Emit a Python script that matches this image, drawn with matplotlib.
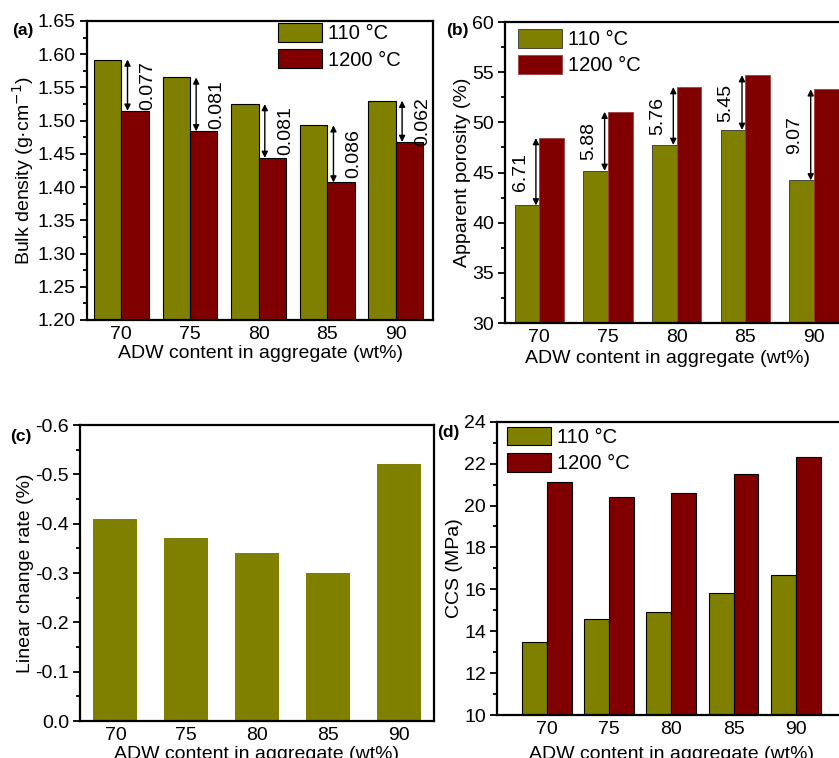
import numpy as np
import matplotlib
matplotlib.use("Agg")
import matplotlib.pyplot as plt
from matplotlib.ticker import AutoMinorLocator, MultipleLocator

plt.rcParams["font.family"] = ["Liberation Sans", "DejaVu Sans"]
plt.rcParams["axes.unicode_minus"] = False
plt.rcParams["font.size"] = 14

content = ["70", "75", "80", "85", "90"]
series = ["110 °C", "1200 °C"]

# bulk density: dried values and the drop after firing
density_110 = [1.592, 1.565, 1.525, 1.493, 1.530]
density_drop = [0.077, 0.081, 0.081, 0.086, 0.062]

# apparent porosity: dried values and the rise after firing
porosity_110 = [41.72, 45.17, 47.75, 49.25, 44.22]
porosity_rise = [6.71, 5.88, 5.76, 5.45, 9.07]

linear_change = [-0.41, -0.37, -0.34, -0.30, -0.52]

ccs_110 = [13.5, 14.6, 14.9, 15.8, 16.7]
ccs_1200 = [21.1, 20.4, 20.6, 21.5, 22.3]

density_1200 = [g - d for g, d in zip(density_110, density_drop)]
porosity_1200 = [g + d for g, d in zip(porosity_110, porosity_rise)]

olive = "#808000"
maroon = "#800000"
W, H = 839, 758

fig = plt.figure(figsize=(W / 100, H / 100), dpi=100)


def box(left, top, right, bottom):
    return [left / W, 1 - bottom / H, (right - left) / W, (bottom - top) / H]


def style(ax, ylabel, ylim, major, fmt):
    ax.set_ylim(*ylim)
    ax.yaxis.set_major_locator(MultipleLocator(major))
    ax.yaxis.set_minor_locator(AutoMinorLocator(2))
    ax.yaxis.set_major_formatter(fmt)
    ax.set_ylabel(ylabel, fontsize=14, labelpad=1)
    ax.set_xlabel("ADW content in aggregate (wt%)", fontsize=14, labelpad=2)
    ax.set_xticks(np.arange(1, 6))
    ax.set_xticklabels(content)
    ax.tick_params(axis="x", length=0, pad=4, labelsize=14)
    ax.tick_params(axis="y", which="major", length=5, width=1.3, pad=3, labelsize=14)
    ax.tick_params(axis="y", which="minor", length=3, width=1.3)
    for s in ax.spines.values():
        s.set_linewidth(1.6)


def legend(ax, anchor):
    ax.legend(loc="upper left", bbox_to_anchor=anchor, frameon=False, fontsize=14.5,
              handlelength=2.2, handleheight=1.05, labelspacing=0.3,
              handletextpad=0.3, borderpad=0, borderaxespad=0)


def span_arrow(ax, xpos, a, b):
    ax.annotate("", xy=(xpos, a), xytext=(xpos, b),
                arrowprops=dict(arrowstyle="<|-|>", color="black", lw=1,
                                mutation_scale=9, shrinkA=0, shrinkB=0))


x = np.arange(1, 6)

# (a) bulk density
ax = fig.add_axes(box(87, 21, 433, 320))
bw = 0.4
ax.bar(x - bw / 2, density_110, bw, color=olive, edgecolor="black", lw=0.8, label=series[0])
ax.bar(x + bw / 2, density_1200, bw, color=maroon, edgecolor="black", lw=0.8, label=series[1])
ax.set_xlim(0.5, 5.54)
style(ax, "Bulk density (g·cm$^{-1}$)", (1.20, 1.65), 0.05, "{x:.2f}")
for xi, top, low, d in zip(x, density_110, density_1200, density_drop):
    span_arrow(ax, xi + 0.09, top, low)
    ax.text(xi + 0.39, (top + low) / 2, f"{d:.3f}", rotation=90,
            ha="center", va="center", fontsize=14)
legend(ax, (0.552, 0.993))
fig.text(12 / W, 1 - 30 / H, "(a)", fontsize=12.5, fontweight="bold", va="center")

# (b) apparent porosity
ax = fig.add_axes(box(505, 22, 848.5, 323))
bw = 0.36
ax.bar(x - bw / 2, porosity_110, bw, color=olive, edgecolor="#333333", lw=0.6, label=series[0])
ax.bar(x + bw / 2, porosity_1200, bw, color=maroon, edgecolor="#a04040", lw=0.6, label=series[1])
ax.set_xlim(0.5, 5.5)
style(ax, "Apparent porosity (%)", (30, 60), 5, "{x:.0f}")
ax.xaxis.set_label_coords(0.473, -0.09)
for xi, low, top, d in zip(x, porosity_110, porosity_1200, porosity_rise):
    span_arrow(ax, xi - 0.05, top, low)
    ax.text(xi - 0.28, (top + low) / 2, f"{d:.2f}", rotation=90,
            ha="center", va="center", fontsize=14)
legend(ax, (0.038, 0.977))
fig.text(446 / W, 1 - 30 / H, "(b)", fontsize=12.5, fontweight="bold", va="center")

# (c) linear change rate
ax = fig.add_axes(box(80, 425, 434, 721))
ax.bar(x, linear_change, 0.62, color=olive, edgecolor="none")
ax.set_xlim(0.5, 5.5)
style(ax, "Linear change rate (%)", (0, -0.6), 0.1, "{x:.1f}")
ax.xaxis.set_label_coords(0.5, -0.085)
fig.text(10 / W, 1 - 437 / H, "(c)", fontsize=12.5, fontweight="bold", va="center")

# (d) cold crushing strength
ax = fig.add_axes(box(497, 421.7, 845.6, 715))
bw = 0.4
ax.bar(x - bw / 2, ccs_110, bw, color=olive, edgecolor="black", lw=0.8, label=series[0])
ax.bar(x + bw / 2, ccs_1200, bw, color=maroon, edgecolor="black", lw=0.8, label=series[1])
ax.set_xlim(0.2, 5.8)
style(ax, "CCS (MPa)", (10, 24), 2, "{x:.0f}")
ax.xaxis.set_label_coords(0.5, -0.105)
legend(ax, (0.029, 0.983))
fig.text(437 / W, 1 - 433 / H, "(d)", fontsize=12.5, fontweight="bold", va="center")

fig.savefig("out.png", dpi=100)
